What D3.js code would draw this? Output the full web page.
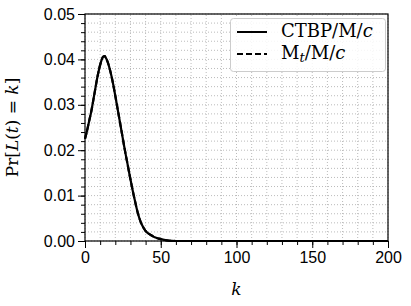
<!DOCTYPE html>
<html>
<head>
<meta charset="utf-8">
<script src="https://cdn.jsdelivr.net/npm/d3@7"></script>
<style>
  body { margin: 0; background: #fff; }
  svg { display: block; }
</style>
</head>
<body>
<div id="vis-holder"></div>
<script>
// chart data
const kValues = [0,1,2,3,4,5,6,7,8,9,10,11,12,13,14,15,16,17,18,19,20,21,22,23,24,25,26,27,28,29,30,31,32,33,34,35,36,37,38,39,40,42,44,46,48,50,55,60,200];
const ctbpValues = [0.0225,0.0238,0.0253,0.0268,0.0283,0.0301,0.0320,0.0339,0.0358,0.0374,0.0388,0.0399,0.0406,0.0407,0.0402,0.0394,0.0383,0.0370,0.0355,0.0338,0.0320,0.0301,0.0282,0.0263,0.0244,0.0225,0.0206,0.0188,0.0171,0.0153,0.0136,0.0119,0.0103,0.0088,0.0073,0.0060,0.0049,0.0040,0.0033,0.0027,0.0022,0.0016,0.0012,0.0008,0.0006,0.0004,0.0001,0,0];
const mtValues = [0.0225,0.0238,0.0253,0.0268,0.0283,0.0301,0.0320,0.0339,0.0358,0.0374,0.0388,0.0399,0.0406,0.0407,0.0402,0.0394,0.0383,0.0370,0.0355,0.0338,0.0320,0.0301,0.0282,0.0263,0.0244,0.0225,0.0206,0.0188,0.0171,0.0153,0.0136,0.0119,0.0103,0.0088,0.0073,0.0060,0.0049,0.0040,0.0033,0.0027,0.0022,0.0016,0.0012,0.0008,0.0006,0.0004,0.0001,0,0];
const xTicks = [0, 50, 100, 150, 200];
const yTicks = [0, 0.01, 0.02, 0.03, 0.04, 0.05];
const xMinor = d3.range(0, 201, 10);
const yMinor = d3.range(0, 0.0501, 0.002);

const width = 411, height = 306;
const margin = { top: 14, right: 23, bottom: 65, left: 85 };

const svg = d3.select("#vis-holder")
              .append("svg")
              .attr("width", width)
              .attr("height", height);

const x = d3.scaleLinear().domain([0, 200]).range([margin.left, width - margin.right]);
const y = d3.scaleLinear().domain([0, 0.05]).range([height - margin.bottom, margin.top]);

// dotted grid
svg.append("g")
   .selectAll("line")
   .data(xMinor)
   .join("line")
     .attr("x1", d => x(d)).attr("x2", d => x(d))
     .attr("y1", y(0)).attr("y2", y(0.05))
     .attr("stroke", "#aaa").attr("stroke-width", 0.8)
     .attr("stroke-dasharray", "1,2");
svg.append("g")
   .selectAll("line")
   .data(yMinor)
   .join("line")
     .attr("x1", x(0)).attr("x2", x(200))
     .attr("y1", d => y(d)).attr("y2", d => y(d))
     .attr("stroke", "#aaa").attr("stroke-width", 0.8)
     .attr("stroke-dasharray", "1,2");

// lines
const line = d3.line()
  .x((d, i) => x(kValues[i]))
  .y(d => y(d))
  .curve(d3.curveMonotoneX);

svg.append("path")
   .datum(ctbpValues)
   .attr("d", line)
   .attr("fill", "none").attr("stroke", "#000").attr("stroke-width", 2.2);
svg.append("path")
   .datum(mtValues)
   .attr("d", line)
   .attr("fill", "none").attr("stroke", "#000").attr("stroke-width", 2.2)
   .attr("stroke-dasharray", "6,3");

// axes
const font = "'Liberation Sans', Arial, sans-serif";
svg.append("g")
  .attr("transform", `translate(0,${y(0)})`)
  .call(d3.axisBottom(x).tickValues(xTicks).tickSize(7).tickPadding(4));
svg.append("g")
  .attr("transform", `translate(0,${y(0)})`)
  .call(d3.axisBottom(x).tickValues(xMinor).tickSize(4).tickFormat(""));
svg.append("g")
  .attr("transform", `translate(${x(0)},0)`)
  .call(d3.axisLeft(y).tickValues(yTicks).tickSize(7).tickPadding(3).tickFormat(d3.format(".2f")));
svg.append("g")
  .attr("transform", `translate(${x(0)},0)`)
  .call(d3.axisLeft(y).tickValues(yMinor).tickSize(4).tickFormat(""));

svg.selectAll(".tick text").attr("font-family", font).attr("font-size", 16).attr("fill", "#000");
svg.selectAll(".tick line").attr("stroke", "#000").attr("stroke-width", 1);
svg.selectAll(".domain").remove();

// frame
svg.append("rect")
   .attr("x", x(0)).attr("y", y(0.05))
   .attr("width", x(200) - x(0)).attr("height", y(0) - y(0.05))
   .attr("fill", "none").attr("stroke", "#000").attr("stroke-width", 1.2);

// axis labels
svg.append("text")
   .attr("x", (x(0) + x(200)) / 2)
   .attr("y", 295)
   .attr("text-anchor", "middle")
   .attr("font-family", "'DejaVu Serif', serif")
   .attr("font-style", "italic")
   .attr("font-size", 17)
   .text("k");

svg.append("text")
   .attr("transform", `translate(18,${(y(0) + y(0.05)) / 2}) rotate(-90)`)
   .attr("text-anchor", "middle")
   .attr("font-family", "'DejaVu Serif', serif")
   .attr("font-size", 17)
   .html("Pr[<tspan font-style='italic'>L</tspan>(<tspan font-style='italic'>t</tspan>) = <tspan font-style='italic'>k</tspan>]");

// legend
const legend = svg.append("g");
legend.append("rect")
   .attr("x", 230.5).attr("y", 18.5)
   .attr("width", 155).attr("height", 53)
   .attr("rx", 3)
   .attr("fill", "#fff").attr("fill-opacity", 0.85)
   .attr("stroke", "#ccc").attr("stroke-width", 1);

const legendItems = [
  { label: "CTBP/M/<tspan font-style='italic'>c</tspan>", dash: null, yy: 32 },
  { label: "M<tspan font-style='italic' font-size='13' dy='3'>t</tspan><tspan dy='-3'>/M/</tspan><tspan font-style='italic'>c</tspan>", dash: "6,3", yy: 54 }
];
legendItems.forEach(it => {
  legend.append("line")
    .attr("x1", 237).attr("x2", 267)
    .attr("y1", it.yy).attr("y2", it.yy)
    .attr("stroke", "#000").attr("stroke-width", 2)
    .attr("stroke-dasharray", it.dash);
  legend.append("text")
    .attr("x", 281).attr("y", it.yy + 5)
    .attr("font-family", "'DejaVu Serif', serif")
    .attr("font-size", 18)
    .attr("textLength", null)
    .html(it.label);
});
</script>
</body>
</html>
